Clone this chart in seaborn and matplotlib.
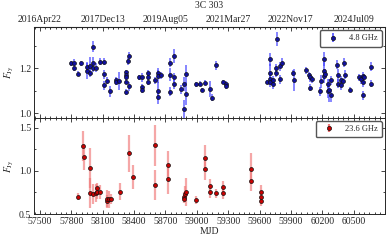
import numpy as np
import pandas as pd
import matplotlib
matplotlib.use('Agg')
import matplotlib.pyplot as plt
from matplotlib.ticker import MultipleLocator, FixedLocator
import seaborn as sns

# ── 4.8 GHz light curve ──
mjd_48 = [57797, 57831, 57831, 57864, 57893, 57951, 57951, 57983, 57983,
          58012, 58012, 58012, 58041, 58073, 58109, 58109, 58109, 58144,
          58173, 58231, 58231, 58260, 58328, 58328, 58328, 58328, 58328,
          58347, 58357, 58357, 58450, 58479, 58479, 58479, 58538, 58538,
          58538, 58601, 58633, 58633, 58633, 58633, 58659, 58746, 58746,
          58746, 58778, 58778, 58778, 58846, 58875, 58875, 58898, 58898,
          58991, 59029, 59046, 59081, 59126, 59149, 59181, 59251, 59280,
          59280, 59676, 59702, 59702, 59702, 59702, 59731, 59731, 59754,
          59754, 59763, 59792, 59792, 59815, 59915, 59925, 60043, 60072,
          60086, 60099, 60086, 60176, 60188, 60212, 60212, 60212, 60224,
          60250, 60250, 60263, 60282, 60282, 60340, 60350, 60350, 60379,
          60379, 60398, 60408, 60414, 60469, 60553, 60565, 60585, 60585,
          60598, 60585, 60662, 60662]
flux_48 = [1.221, 1.225, 1.201, 1.176, 1.221, 1.204, 1.187, 1.210, 1.179,
           1.295, 1.224, 1.201, 1.201, 1.228, 1.228, 1.173, 1.124, 1.145,
           1.098, 1.147, 1.140, 1.144, 1.184, 1.172, 1.159, 1.139, 1.095,
           1.231, 1.253, 1.120, 1.159, 1.159, 1.117, 1.102, 1.179, 1.159,
           1.139, 1.147, 1.179, 1.164, 1.098, 1.073, 1.168, 1.225, 1.172,
           1.095, 1.255, 1.159, 1.129, 1.107, 1.129, 1.018, 1.173, 1.088,
           1.129, 1.132, 1.104, 1.136, 1.107, 1.070, 1.212, 1.139, 1.129,
           1.120, 1.139, 1.239, 1.179, 1.154, 1.137, 1.128, 1.147, 1.179,
           1.199, 1.330, 1.209, 1.150, 1.225, 1.179, 1.147, 1.190, 1.168,
           1.159, 1.150, 1.113, 1.098, 1.142, 1.240, 1.188, 1.166, 1.176,
           1.132, 1.099, 1.102, 1.147, 1.080, 1.216, 1.168, 1.132, 1.147,
           1.124, 1.142, 1.224, 1.172, 1.105, 1.159, 1.150, 1.164, 1.139,
           1.161, 1.080, 1.206, 1.132]
err_48 = [0.012, 0.015, 0.012, 0.010, 0.010, 0.025, 0.035, 0.040, 0.020,
          0.025, 0.025, 0.020, 0.020, 0.015, 0.015, 0.020, 0.020, 0.015,
          0.025, 0.015, 0.015, 0.040, 0.010, 0.010, 0.010, 0.010, 0.015,
          0.015, 0.020, 0.020, 0.010, 0.020, 0.015, 0.010, 0.015, 0.010,
          0.015, 0.015, 0.020, 0.030, 0.040, 0.030, 0.015, 0.020, 0.030,
          0.020, 0.030, 0.020, 0.020, 0.020, 0.030, 0.040, 0.040, 0.050,
          0.010, 0.010, 0.010, 0.010, 0.035, 0.015, 0.020, 0.010, 0.015,
          0.010, 0.010, 0.030, 0.040, 0.030, 0.020, 0.020, 0.020, 0.020,
          0.020, 0.030, 0.020, 0.020, 0.020, 0.015, 0.050, 0.015, 0.015,
          0.020, 0.015, 0.015, 0.020, 0.030, 0.030, 0.040, 0.030, 0.020,
          0.020, 0.030, 0.050, 0.020, 0.030, 0.020, 0.030, 0.020, 0.020,
          0.020, 0.015, 0.020, 0.020, 0.010, 0.015, 0.020, 0.020, 0.020,
          0.015, 0.020, 0.020, 0.015]

# ── 23.6 GHz light curve ──
mjd_236 = [57864, 57912, 57918, 57983, 57983, 58012, 58038, 58048, 58048,
           58073, 58140, 58140, 58164, 58179, 58263, 58357, 58386, 58601,
           58601, 58724, 58724, 58875, 58875, 58884, 58901, 58997, 59078,
           59078, 59126, 59126, 59181, 59248, 59248, 59519, 59519, 59616,
           59616, 59616]
flux_236 = [0.698, 1.287, 1.161, 1.034, 0.744, 0.732, 0.744, 0.797, 0.755,
            0.759, 0.655, 0.675, 0.670, 0.675, 0.759, 1.200, 0.930, 1.295,
            0.836, 1.069, 0.905, 0.700, 0.675, 0.732, 0.751, 0.663, 1.153,
            1.026, 0.820, 0.751, 0.739, 0.808, 0.739, 1.026, 0.885, 0.759,
            0.701, 0.647]
err_236 = [0.04, 0.17, 0.15, 0.23, 0.17, 0.12, 0.10, 0.06, 0.08,
           0.08, 0.07, 0.10, 0.10, 0.06, 0.10, 0.21, 0.14, 0.24,
           0.17, 0.16, 0.17, 0.05, 0.05, 0.09, 0.16, 0.05, 0.15,
           0.13, 0.08, 0.07, 0.05, 0.07, 0.06, 0.18, 0.12, 0.08,
           0.06, 0.05]

mjd_ticks = list(range(57500, 60600, 300))
top_ticks = [57500, 58100, 58700, 59300, 59900, 60500]

sns.set_style('ticks')
plt.rcParams['font.family'] = ['Liberation Serif', 'DejaVu Serif']
plt.rcParams['mathtext.fontset'] = 'stix'
plt.rcParams['font.size'] = 7

fig = plt.figure(figsize=(3.89, 2.41), dpi=100)
ax1 = fig.add_axes([0.087, 0.5124, 0.903, 0.3756])
ax2 = fig.add_axes([0.087, 0.112, 0.903, 0.4004], sharex=ax1)

panels = [
    (ax1, mjd_48, flux_48, err_48, '4.8 GHz', '#1010a0', '#4040ff', 0.8, 1.1),
    (ax2, mjd_236, flux_236, err_236, '23.6 GHz', '#cc0000', '#f07878', 0.65, 1.6),
]
for ax, x, y, e, lab, mcol, ecol, ealpha, elw in panels:
    ax.errorbar(x, y, yerr=e, fmt='none', ecolor=ecol, alpha=ealpha,
                elinewidth=elw, capsize=0, zorder=1)
    sns.scatterplot(x=x, y=y, ax=ax, color=mcol, edgecolor='#101010',
                    linewidth=0.5, s=8, zorder=3, legend=False)
    h = ax.errorbar([np.nan], [np.nan], yerr=[0.1], fmt='o', color=mcol,
                    mec='#101010', mew=0.5, ms=3.0, ecolor=ecol,
                    elinewidth=elw, alpha=1.0, label=lab)
    ax.legend(handles=[h], loc='upper right', fontsize=6, frameon=True,
              fancybox=True, edgecolor='#555555', framealpha=1,
              handlelength=2.2, borderpad=0.5, handletextpad=0.8,
              borderaxespad=0.4)
    ax.set_ylabel(r'$F_{\rm Jy}$', fontsize=7, labelpad=2)
    ax.tick_params(which='both', direction='in', top=True, right=True,
                   labelsize=7, width=0.6, pad=2)
    ax.tick_params(which='major', length=3)
    ax.tick_params(which='minor', length=1.5)
    ax.xaxis.set_major_locator(FixedLocator(mjd_ticks))
    ax.xaxis.set_minor_locator(MultipleLocator(50))
    for sp in ax.spines.values():
        sp.set_linewidth(0.7)

ax1.set_xlim(57443, 60800)
ax1.set_ylim(0.982, 1.382)
ax1.yaxis.set_major_locator(MultipleLocator(0.2))
ax1.yaxis.set_minor_locator(MultipleLocator(0.1))
ax1.tick_params(axis='x', labelbottom=False, top=False)

ax2.set_ylim(0.5, 1.616)
ax2.yaxis.set_major_locator(MultipleLocator(0.5))
ax2.yaxis.set_minor_locator(MultipleLocator(0.25))
ax2.set_xlabel('MJD', fontsize=7, labelpad=1)

# calendar dates on top of the upper panel
mjd0 = pd.Timestamp('1858-11-17')
date_labels = [(mjd0 + pd.Timedelta(days=m)).strftime('%Y%b%d') for m in top_ticks]
sec = ax1.secondary_xaxis('top')
sec.set_xticks(top_ticks)
sec.set_xticklabels(date_labels)
sec.xaxis.set_minor_locator(MultipleLocator(100))
sec.tick_params(which='both', direction='in', labelsize=7, width=0.6, pad=2)
sec.tick_params(which='major', length=3)
sec.tick_params(which='minor', length=1.5)

fig.text(0.5386, 0.979, '3C 303', ha='center', va='center', fontsize=7)

fig.savefig('out.png', dpi=100)
